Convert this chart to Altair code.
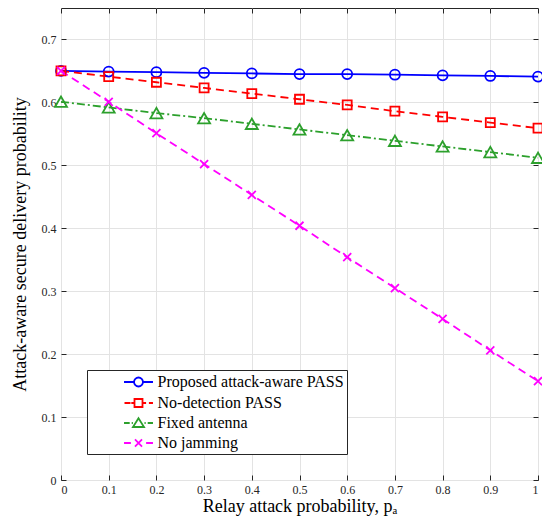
import altair as alt
import pandas as pd

# ---------------- data ----------------
x_vals = [0.0, 0.1, 0.2, 0.3, 0.4, 0.5, 0.6, 0.7, 0.8, 0.9, 1.0]
proposed = [0.650, 0.649, 0.648, 0.647, 0.646, 0.645, 0.645, 0.644, 0.643, 0.642, 0.641]
no_detection = [0.650, 0.641, 0.632, 0.623, 0.614, 0.605, 0.596, 0.586, 0.577, 0.568, 0.559]
fixed_antenna = [0.601, 0.592, 0.583, 0.575, 0.566, 0.557, 0.548, 0.539, 0.530, 0.521, 0.512]
no_jamming = [0.650, 0.601, 0.551, 0.502, 0.453, 0.404, 0.354, 0.305, 0.256, 0.206, 0.157]

names = ["Proposed attack-aware PASS", "No-detection PASS", "Fixed antenna", "No jamming"]
series_values = [proposed, no_detection, fixed_antenna, no_jamming]
x_ticks = [0, 0.1, 0.2, 0.3, 0.4, 0.5, 0.6, 0.7, 0.8, 0.9, 1]
y_ticks = [0, 0.1, 0.2, 0.3, 0.4, 0.5, 0.6, 0.7]

# ---------------- styles ----------------
colors = ["#0000FF", "#FF0000", "#2CA02C", "#FF00FF"]
dashes = [None, [8, 5], [8, 3, 2, 3], [8, 5]]
shapes = ["circle", "square", "triangle-up", "M-1,-1L1,1M-1,1L1,-1"]
sizes = [100, 81, 144, 64]

# legend symbols: line segment + marker drawn as one path (unit = 8px)
legend_paths = [
    "M-1.81,0L-0.56,0M0.56,0L1.81,0M-0.56,0A0.56,0.56 0 1,0 0.56,0A0.56,0.56 0 1,0 -0.56,0",
    "M-1.75,0L-1.0,0M-0.5,-0.5L0.5,-0.5L0.5,0.5L-0.5,0.5ZM-0.5,0L-0.9,0M0.5,0L0.95,0M1.3,0L1.81,0",
    "M-1.81,0L-1.1,0M-0.85,0L-0.7,0M0,-0.6L0.69,0.5L-0.69,0.5ZM0.75,0L0.9,0M1.15,0L1.81,0",
    "M-1.81,0L-0.95,0M-0.44,-0.44L0.44,0.44M-0.44,0.44L0.44,-0.44M0.95,0L1.81,0",
]

rows = []
for name, vals in zip(names, series_values):
    for xv, yv in zip(x_vals, vals):
        rows.append({"x": xv, "y": yv, "series": name})
df = pd.DataFrame(rows)

FONT = "Liberation Serif"
xs = alt.Scale(domain=[0, 1], nice=False, zero=False)
ys = alt.Scale(domain=[0, 0.75], nice=False, zero=False)

x_main = alt.X("x:Q", scale=xs, axis=alt.Axis(
    orient="bottom", values=x_ticks, format="~g",
    title="Relay attack probability, pₐ",
    offset=-5, tickSize=5, domain=False, grid=True, labelPadding=4,
    titlePadding=2))
y_main = alt.Y("y:Q", scale=ys, axis=alt.Axis(
    orient="left", values=y_ticks, format="~g",
    title="Attack-aware secure delivery probability",
    offset=-5, tickSize=5, domain=False, grid=True, labelPadding=5,
    titlePadding=12))
x_top = alt.X("x:Q", scale=xs, axis=alt.Axis(
    orient="top", values=x_ticks, labels=False, title=None,
    offset=-5, tickSize=5, domain=False, grid=False))
y_right = alt.Y("y:Q", scale=ys, axis=alt.Axis(
    orient="right", values=y_ticks, labels=False, title=None,
    offset=-5, tickSize=5, domain=False, grid=False))
x_none = alt.X("x:Q", scale=xs, axis=None)
y_none = alt.Y("y:Q", scale=ys, axis=None)

base = alt.Chart(df)
layers = []
first = True
for name, c, d in zip(names, colors, dashes):
    sel = base.transform_filter(alt.datum.series == name)
    line_kwargs = dict(color=c, strokeWidth=1.8)
    if d is not None:
        line_kwargs["strokeDash"] = d
    xe, ye = (x_main, y_main) if first else (x_none, y_none)
    first = False
    layers.append(sel.mark_line(**line_kwargs).encode(x=xe, y=ye))
for name, c, shp, sz in zip(names, colors, shapes, sizes):
    sel = base.transform_filter(alt.datum.series == name)
    layers.append(sel.mark_point(shape=shp, color=c, filled=False, size=sz,
                                 strokeWidth=1.8, opacity=1).encode(x=x_none, y=y_none))

label_expr = "datum.label + '\u2002\u2002\u00a0'"
legend_layer = base.transform_filter("false").mark_point(
    filled=False, strokeWidth=1.8, opacity=1
).encode(
    x=x_top, y=y_right,
    color=alt.Color("series:N", scale=alt.Scale(domain=names, range=colors),
                    legend=alt.Legend(title=None, labelExpr=label_expr)),
    shape=alt.Shape("series:N", scale=alt.Scale(domain=names, range=legend_paths),
                    legend=alt.Legend(title=None, labelExpr=label_expr)),
)
layers.append(legend_layer)

chart = alt.layer(*layers).resolve_axis(x="independent", y="independent").properties(
    width=477, height=472,
    autosize=alt.AutoSizeParams(type="none"),
    padding={"left": 53, "top": 0, "right": 4, "bottom": 37},
    background="white",
).configure_view(
    stroke="#262626", strokeWidth=1
).configure_axis(
    labelFont=FONT, titleFont=FONT, labelFontSize=12, titleFontSize=18,
    labelColor="#262626", titleColor="#000000", titleFontWeight="normal",
    tickColor="#262626", tickWidth=1, gridColor="#e3e3e3", gridWidth=1,
).configure_legend(
    orient="none", legendX=26, legendY=362,
    labelFont=FONT, labelFontSize=16, labelColor="#000000",
    symbolSize=256, symbolStrokeWidth=1.8, symbolOffset=39.5, labelOffset=10,
    padding=3, rowPadding=3, strokeColor="#262626", fillColor="white",
    labelLimit=400,
)

chart.save("out.html", embed_options={"renderer": "svg", "actions": False})
